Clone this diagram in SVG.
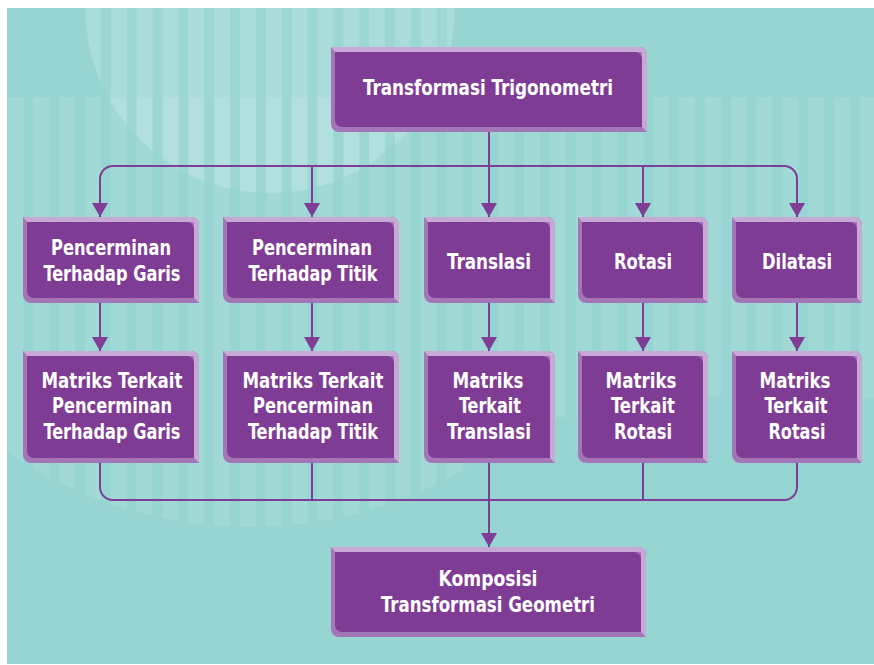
<svg xmlns="http://www.w3.org/2000/svg" width="874" height="665" viewBox="0 0 874 665">
<style>
.bd{fill:#A377B7}
.bl{fill:#C8A8D5}
.bi{fill:#7E3C95}
.t{fill:#ffffff;font-family:"DejaVu Sans Condensed","DejaVu Sans","Liberation Sans",sans-serif;font-weight:bold;font-size:20.5px;text-anchor:middle}
.c{fill:none;stroke:#7F3D96;stroke-width:2}
.ca{fill:none;stroke:#7F3D96;stroke-width:2;marker-end:url(#ah)}
</style>
<defs>
<pattern id="stripes" patternUnits="userSpaceOnUse" x="33.3" y="0" width="25.83" height="10">
<rect width="16" height="10" fill="#ffffff"/>
</pattern>
<marker id="ah" viewBox="0 0 14 16" refX="14" refY="8" markerWidth="14" markerHeight="16" markerUnits="userSpaceOnUse" orient="auto">
<path d="M0 0 L14 8 L0 16 Z" fill="#7F3D96"/>
</marker>
</defs>
<rect width="874" height="665" fill="#ffffff"/>
<rect x="7" y="8" width="867" height="656" fill="#97D5D2"/>
<g id="decor">
<path d="M85 8 A185 185 0 0 0 455 8 Z" fill="#ffffff" opacity="0.05"/>
<path d="M85 8 A185 185 0 0 0 455 8 Z" fill="url(#stripes)" opacity="0.13"/>
<path d="M7 97 V452 A431 431 0 0 0 455 475 Q500 440 555 418 L720 396 L874 398 V97 Z" fill="url(#stripes)" opacity="0.1"/>
</g>
<g id="connectors">
<path class="c" d="M489 132 V166"/>
<path class="c" d="M113 166 H784"/>
<path class="ca" d="M113 166 A13 13 0 0 0 100 179 V217"/>
<path class="ca" d="M784 166 A13 13 0 0 1 797 179 V217"/>
<path class="ca" d="M312 166 V217"/>
<path class="ca" d="M489 166 V217"/>
<path class="ca" d="M643 166 V217"/>
<path class="ca" d="M100 303 V351"/>
<path class="ca" d="M312 303 V351"/>
<path class="ca" d="M489 303 V351"/>
<path class="ca" d="M643 303 V351"/>
<path class="ca" d="M797 303 V351"/>
<path class="c" d="M100 463 V487 A13 13 0 0 0 113 500 H784 A13 13 0 0 0 797 487 V463"/>
<path class="c" d="M312 463 V500"/>
<path class="c" d="M643 463 V500"/>
<path class="ca" d="M489 463 V547"/>
</g>
<g id="node-top">
<path class="bd" d="M331 47 H639 A8 8 0 0 1 647 55 V132 H339 A8 8 0 0 1 331 124 Z"/>
<path class="bl" d="M331 47 H639 A8 8 0 0 1 647 55 V132 L642 127 V52 H335 Z"/>
<path class="bi" d="M335 52 H635 A7 7 0 0 1 642 59 V127 H342 A7 7 0 0 1 335 120 Z"/>
<text class="t" x="488" y="95" textLength="250" lengthAdjust="spacingAndGlyphs">Transformasi Trigonometri</text>
</g>
<g id="node-pencerminan-garis">
<path class="bd" d="M23 217 H191 A8 8 0 0 1 199 225 V303 H31 A8 8 0 0 1 23 295 Z"/>
<path class="bl" d="M23 217 H191 A8 8 0 0 1 199 225 V303 L194 298 V222 H27 Z"/>
<path class="bi" d="M27 222 H187 A7 7 0 0 1 194 229 V298 H34 A7 7 0 0 1 27 291 Z"/>
<text class="t" x="111" y="255" textLength="120" lengthAdjust="spacingAndGlyphs">Pencerminan</text>
<text class="t" x="112" y="281" textLength="137" lengthAdjust="spacingAndGlyphs">Terhadap Garis</text>
</g>
<g id="node-pencerminan-titik">
<path class="bd" d="M223 217 H391 A8 8 0 0 1 399 225 V303 H231 A8 8 0 0 1 223 295 Z"/>
<path class="bl" d="M223 217 H391 A8 8 0 0 1 399 225 V303 L394 298 V222 H227 Z"/>
<path class="bi" d="M227 222 H387 A7 7 0 0 1 394 229 V298 H234 A7 7 0 0 1 227 291 Z"/>
<text class="t" x="312" y="255" textLength="120" lengthAdjust="spacingAndGlyphs">Pencerminan</text>
<text class="t" x="313" y="281" textLength="129" lengthAdjust="spacingAndGlyphs">Terhadap Titik</text>
</g>
<g id="node-translasi">
<path class="bd" d="M424 217 H547 A8 8 0 0 1 555 225 V303 H432 A8 8 0 0 1 424 295 Z"/>
<path class="bl" d="M424 217 H547 A8 8 0 0 1 555 225 V303 L550 298 V222 H428 Z"/>
<path class="bi" d="M428 222 H543 A7 7 0 0 1 550 229 V298 H435 A7 7 0 0 1 428 291 Z"/>
<text class="t" x="489" y="269" textLength="84" lengthAdjust="spacingAndGlyphs">Translasi</text>
</g>
<g id="node-rotasi">
<path class="bd" d="M578 217 H700 A8 8 0 0 1 708 225 V303 H586 A8 8 0 0 1 578 295 Z"/>
<path class="bl" d="M578 217 H700 A8 8 0 0 1 708 225 V303 L703 298 V222 H582 Z"/>
<path class="bi" d="M582 222 H696 A7 7 0 0 1 703 229 V298 H589 A7 7 0 0 1 582 291 Z"/>
<text class="t" x="643" y="269" textLength="58" lengthAdjust="spacingAndGlyphs">Rotasi</text>
</g>
<g id="node-dilatasi">
<path class="bd" d="M732 217 H854 A8 8 0 0 1 862 225 V303 H740 A8 8 0 0 1 732 295 Z"/>
<path class="bl" d="M732 217 H854 A8 8 0 0 1 862 225 V303 L857 298 V222 H736 Z"/>
<path class="bi" d="M736 222 H850 A7 7 0 0 1 857 229 V298 H743 A7 7 0 0 1 736 291 Z"/>
<text class="t" x="797" y="269" textLength="70" lengthAdjust="spacingAndGlyphs">Dilatasi</text>
</g>
<g id="node-matriks-garis">
<path class="bd" d="M23 351 H191 A8 8 0 0 1 199 359 V463 H31 A8 8 0 0 1 23 455 Z"/>
<path class="bl" d="M23 351 H191 A8 8 0 0 1 199 359 V463 L194 458 V356 H27 Z"/>
<path class="bi" d="M27 356 H187 A7 7 0 0 1 194 363 V458 H34 A7 7 0 0 1 27 451 Z"/>
<text class="t" x="112" y="388" textLength="141" lengthAdjust="spacingAndGlyphs">Matriks Terkait</text>
<text class="t" x="112" y="413" textLength="120" lengthAdjust="spacingAndGlyphs">Pencerminan</text>
<text class="t" x="112" y="439" textLength="137" lengthAdjust="spacingAndGlyphs">Terhadap Garis</text>
</g>
<g id="node-matriks-titik">
<path class="bd" d="M223 351 H391 A8 8 0 0 1 399 359 V463 H231 A8 8 0 0 1 223 455 Z"/>
<path class="bl" d="M223 351 H391 A8 8 0 0 1 399 359 V463 L394 458 V356 H227 Z"/>
<path class="bi" d="M227 356 H387 A7 7 0 0 1 394 363 V458 H234 A7 7 0 0 1 227 451 Z"/>
<text class="t" x="313" y="388" textLength="141" lengthAdjust="spacingAndGlyphs">Matriks Terkait</text>
<text class="t" x="313" y="413" textLength="120" lengthAdjust="spacingAndGlyphs">Pencerminan</text>
<text class="t" x="313" y="439" textLength="130" lengthAdjust="spacingAndGlyphs">Terhadap Titik</text>
</g>
<g id="node-matriks-translasi">
<path class="bd" d="M424 351 H547 A8 8 0 0 1 555 359 V463 H432 A8 8 0 0 1 424 455 Z"/>
<path class="bl" d="M424 351 H547 A8 8 0 0 1 555 359 V463 L550 458 V356 H428 Z"/>
<path class="bi" d="M428 356 H543 A7 7 0 0 1 550 363 V458 H435 A7 7 0 0 1 428 451 Z"/>
<text class="t" x="488" y="388" textLength="71" lengthAdjust="spacingAndGlyphs">Matriks</text>
<text class="t" x="490" y="413" textLength="62" lengthAdjust="spacingAndGlyphs">Terkait</text>
<text class="t" x="489" y="439" textLength="84" lengthAdjust="spacingAndGlyphs">Translasi</text>
</g>
<g id="node-matriks-rotasi">
<path class="bd" d="M578 351 H700 A8 8 0 0 1 708 359 V463 H586 A8 8 0 0 1 578 455 Z"/>
<path class="bl" d="M578 351 H700 A8 8 0 0 1 708 359 V463 L703 458 V356 H582 Z"/>
<path class="bi" d="M582 356 H696 A7 7 0 0 1 703 363 V458 H589 A7 7 0 0 1 582 451 Z"/>
<text class="t" x="641" y="388" textLength="71" lengthAdjust="spacingAndGlyphs">Matriks</text>
<text class="t" x="643" y="413" textLength="64" lengthAdjust="spacingAndGlyphs">Terkait</text>
<text class="t" x="643" y="439" textLength="58" lengthAdjust="spacingAndGlyphs">Rotasi</text>
</g>
<g id="node-matriks-dilatasi">
<path class="bd" d="M732 351 H854 A8 8 0 0 1 862 359 V463 H740 A8 8 0 0 1 732 455 Z"/>
<path class="bl" d="M732 351 H854 A8 8 0 0 1 862 359 V463 L857 458 V356 H736 Z"/>
<path class="bi" d="M736 356 H850 A7 7 0 0 1 857 363 V458 H743 A7 7 0 0 1 736 451 Z"/>
<text class="t" x="795" y="388" textLength="71" lengthAdjust="spacingAndGlyphs">Matriks</text>
<text class="t" x="796" y="413" textLength="63" lengthAdjust="spacingAndGlyphs">Terkait</text>
<text class="t" x="797" y="439" textLength="57" lengthAdjust="spacingAndGlyphs">Rotasi</text>
</g>
<g id="node-komposisi">
<path class="bd" d="M331 547 H638 A8 8 0 0 1 646 555 V637 H339 A8 8 0 0 1 331 629 Z"/>
<path class="bl" d="M331 547 H638 A8 8 0 0 1 646 555 V637 L641 632 V552 H335 Z"/>
<path class="bi" d="M335 552 H634 A7 7 0 0 1 641 559 V632 H342 A7 7 0 0 1 335 625 Z"/>
<text class="t" x="488" y="586" textLength="99" lengthAdjust="spacingAndGlyphs">Komposisi</text>
<text class="t" x="488" y="612" textLength="214" lengthAdjust="spacingAndGlyphs">Transformasi Geometri</text>
</g>
</svg>
